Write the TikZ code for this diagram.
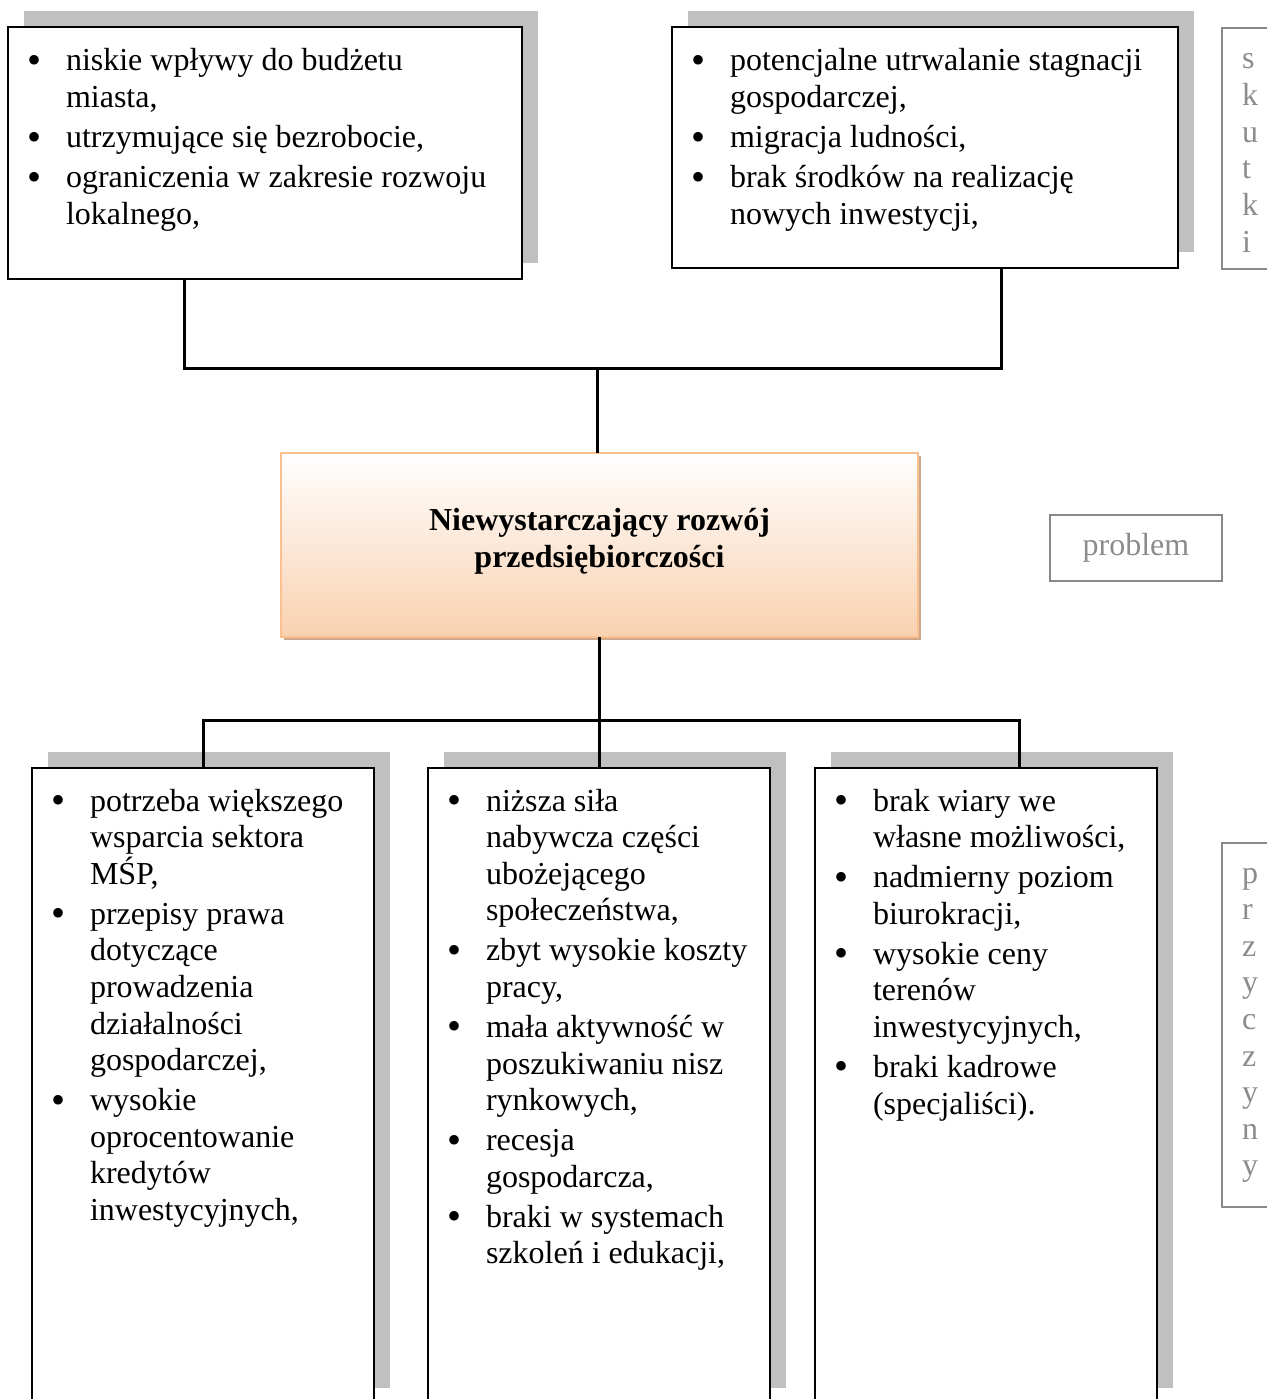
\documentclass[tikz,border=0pt]{standalone}
\usepackage{fontspec}
\setmainfont{Liberation Serif}
\usetikzlibrary{calc}
\pgfdeclarelayer{bg}
\pgfsetlayers{bg,main}
\definecolor{shgray}{RGB}{192,192,192}
\definecolor{peach}{RGB}{249,209,176}
\definecolor{peachborder}{RGB}{250,192,144}
\definecolor{peachshadow}{RGB}{205,168,138}
\definecolor{lblgray}{RGB}{137,137,137}
\definecolor{lbltext}{RGB}{140,140,140}
\newcommand\bitem[1]{\par\hangindent=38bp\hangafter=1\noindent\makebox[38bp][l]{\hspace{-1bp}\raisebox{-2.5bp}{\fontsize{40bp}{40bp}\selectfont\textbullet}}#1}
\newcommand\topstrut{\rule{0pt}{30bp}}
\tikzset{
  x=1bp, y=-1bp,
  box/.style 2 args={draw=black, line width=2bp, fill=white, minimum width=#1bp, minimum height=#2bp, inner sep=0pt, outer sep=0pt},
  txt/.style={anchor=north west, inner sep=0pt, outer sep=0pt, text width=#1bp,
    font=\fontsize{32bp}{36.6bp}\selectfont,
    execute at begin node={\setlength\parskip{3.4bp}\setlength\parindent{0pt}\rightskip=0pt plus 1fil\relax\spaceskip=8bp\relax}},
  conn/.style={draw=black, line width=3bp, line join=miter},
  lbl/.style 2 args={draw=lblgray, line width=2bp, minimum width=#1bp, minimum height=#2bp, inner sep=0pt, outer sep=0pt,
    text=lbltext, font=\fontsize{32bp}{36.6bp}\selectfont},
  lbltxt/.style={anchor=north west, inner sep=0pt, outer sep=0pt, align=left, text=lbltext,
    font=\fontsize{32bp}{36.6bp}\selectfont},
  cbox/.style={draw=peachborder, line width=2bp, top color=white, bottom color=peach,
    minimum width=637bp, minimum height=184bp, inner sep=0pt, outer sep=0pt},
}
\begin{document}
\begin{tikzpicture}
\useasboundingbox (0,0) rectangle (1266,1399);
% boxes
\node[box={514}{252}] (TL) at (265,153) {};
\node[box={506}{241}] (TR) at (925,147.5) {};
\node[cbox] (C) at (599.5,545) {};
\node[box={342}{636}] (B1) at (203,1086) {};
\node[box={342}{636}] (B2) at (599,1086) {};
\node[box={342}{636}] (B3) at (986,1086) {};
% shadows
\begin{pgfonlayer}{bg}
  \foreach \n in {TL,TR,B1,B2,B3}{
    \fill[shgray] ($(\n.south west)+(16,-16)$) rectangle ($(\n.north east)+(16,-16)$);
  }
  \fill[peachshadow] ($(C.south west)+(3,3)$) rectangle ($(C.north east)+(3,3)$);
\end{pgfonlayer}
% texts
\node[txt=490] (TLt) at (28,31) {%
  \bitem{\topstrut niskie wpływy do budżetu\newline miasta,}
  \bitem{utrzymujące się bezrobocie,}
  \bitem{ograniczenia w zakresie rozwoju\newline lokalnego,}\par};
\node[txt=482] (TRt) at (692,31) {%
  \bitem{\topstrut potencjalne utrwalanie stagnacji\newline gospodarczej,}
  \bitem{migracja ludności,}
  \bitem{brak środków na realizację\newline nowych inwestycji,}\par};
\node[font=\bfseries\fontsize{32bp}{36.6bp}\selectfont, align=center, inner sep=0pt] (Ct) at (599.5,541)
  {Niewystarczający rozwój\\przedsiębiorczości};
\node[txt=318] (B1t) at (52,771) {%
  \bitem{\topstrut potrzeba większego\newline wsparcia sektora\newline MŚP,}
  \bitem{przepisy prawa\newline dotyczące\newline prowadzenia\newline działalności\newline gospodarczej,}
  \bitem{wysokie\newline oprocentowanie\newline kredytów\newline inwestycyjnych,}\par};
\node[txt=318] (B2t) at (448,771) {%
  \bitem{\topstrut niższa siła\newline nabywcza części\newline ubożejącego\newline społeczeństwa,}
  \bitem{zbyt wysokie koszty\newline pracy,}
  \bitem{mała aktywność w\newline poszukiwaniu nisz\newline rynkowych,}
  \bitem{recesja\newline gospodarcza,}
  \bitem{braki w systemach\newline szkoleń i edukacji,}\par};
\node[txt=318] (B3t) at (835,771) {%
  \bitem{\topstrut brak wiary we\newline własne możliwości,}
  \bitem{nadmierny poziom\newline biurokracji,}
  \bitem{wysokie ceny\newline terenów\newline inwestycyjnych,}
  \bitem{braki kadrowe\newline (specjaliści).}\par};
% side labels
\node[lbl={68}{241}] (SK) at (1256,148.5) {};
\node[lbltxt] (SKt) at (1242,39) {\topstrut s\\k\\u\\t\\k\\i};
\node[lbl={172}{66}] (PR) at (1136,548) {problem};
\node[lbl={68}{364}] (PY) at (1256,1025) {};
\node[lbltxt] (PYt) at (1242,853) {\topstrut p\\r\\z\\y\\c\\z\\y\\n\\y};
% connectors
\coordinate (jtl) at (184,368);
\coordinate (jtr) at (1001,368);
\coordinate (jt) at (597,368);
\coordinate (jbl) at (203,720);
\coordinate (jbr) at (1019,720);
\coordinate (jb) at (599,720);
\draw[conn] (TL.south -| jtl) -- (jtl) -- (jtr) -- (TR.south -| jtr);
\draw[conn] (jt) -- (C.north -| jt);
\draw[conn] (C.south -| jb) -- (jb);
\draw[conn] (B1.north -| jbl) -- (jbl) -- (jbr) -- (B3.north -| jbr);
\draw[conn] (jb) -- (B2.north -| jb);
\end{tikzpicture}
\end{document}
